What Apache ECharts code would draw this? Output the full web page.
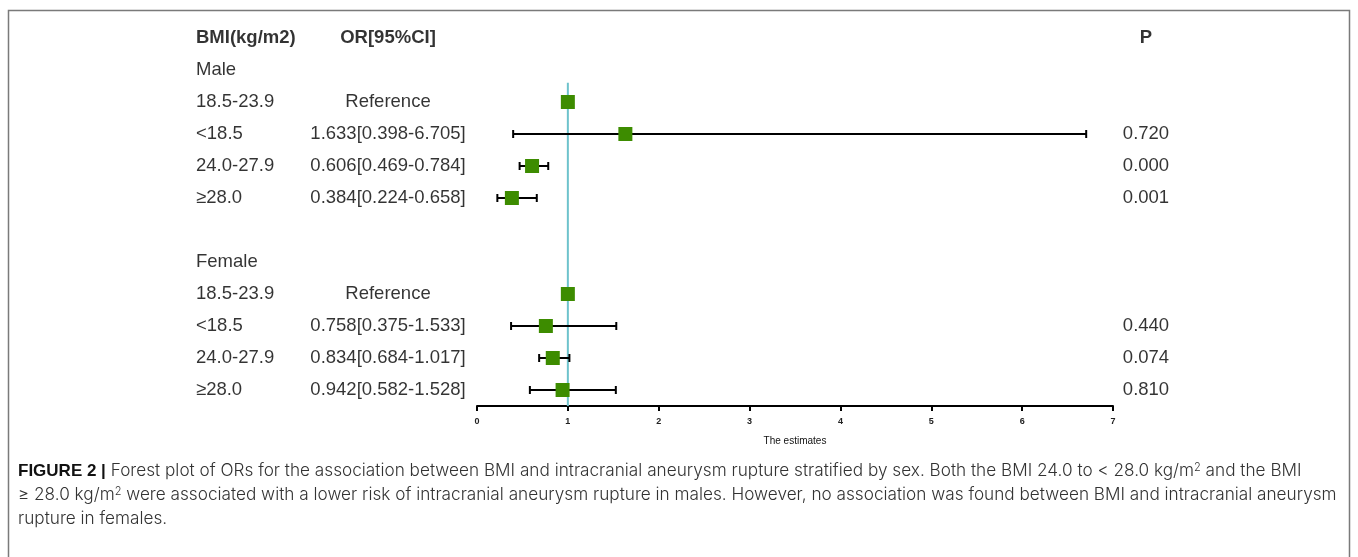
<!DOCTYPE html>
<html><head><meta charset="utf-8">
<script src="https://cdn.jsdelivr.net/npm/echarts@6/dist/echarts.min.js"></script>
<style>html,body{margin:0;padding:0;background:#fff}#c{width:1358px;height:557px}</style>
</head><body><div id="c"></div>
<script>
// ---- data ----
const groups = ['Male', 'Female'];
const categories = ['18.5-23.9', '<18.5', '24.0-27.9', '\u226528.0'];
const maleOR   = [1, 1.633, 0.606, 0.384];
const maleLow  = [null, 0.398, 0.469, 0.224];
const maleHigh = [null, 6.705, 0.784, 0.658];
const maleP    = ['', '0.720', '0.000', '0.001'];
const femaleOR   = [1, 0.758, 0.834, 0.942];
const femaleLow  = [null, 0.375, 0.684, 0.582];
const femaleHigh = [null, 1.533, 1.017, 1.528];
const femaleP    = ['', '0.440', '0.074', '0.810'];
const headers = ['BMI(kg/m2)', 'OR[95%CI]', 'P'];
const xTicks = [0, 1, 2, 3, 4, 5, 6, 7];
const refValue = 1;
const xTitle = 'The estimates';
const captionLines = [
  '{b|FIGURE 2 |} Forest plot of ORs for the association between BMI and intracranial aneurysm rupture stratified by sex. Both the BMI 24.0 to < 28.0 kg/m{sup|2} and the BMI',
  '\u2265 28.0 kg/m{sup|2} were associated with a lower risk of intracranial aneurysm rupture in males. However, no association was found between BMI and intracranial aneurysm',
  'rupture in females.'
];

// ---- layout ----
const COL_BMI = 196, COL_OR = 388, COL_P = 1146;
const groupData = [
  {name: groups[0], or: maleOR, lo: maleLow, hi: maleHigh, p: maleP, row: 1},
  {name: groups[1], or: femaleOR, lo: femaleLow, hi: femaleHigh, p: femaleP, row: 7}
];
const leftTexts = [], centerTexts = [], boldTexts = [], points = [], bars = [];
boldTexts.push({value: [COL_BMI, 0], name: headers[0], align: 'left'});
boldTexts.push({value: [COL_OR, 0], name: headers[1], align: 'center'});
boldTexts.push({value: [COL_P, 0], name: headers[2], align: 'center'});
groupData.forEach(g => {
  leftTexts.push({value: [COL_BMI, g.row], name: g.name});
  categories.forEach((c, i) => {
    const r = g.row + 1 + i;
    leftTexts.push({value: [COL_BMI, r], name: c});
    const txt = g.lo[i] == null ? 'Reference'
      : g.or[i].toFixed(3) + '[' + g.lo[i].toFixed(3) + '-' + g.hi[i].toFixed(3) + ']';
    centerTexts.push({value: [COL_OR, r], name: txt});
    if (g.p[i]) centerTexts.push({value: [COL_P, r], name: g.p[i]});
    points.push([g.or[i], r]);
    if (g.lo[i] != null) bars.push([g.lo[i], g.hi[i], r]);
  });
});

const FS = 18.5;
const chart = echarts.init(document.getElementById('c'), null, {renderer: 'canvas'});
const yAx = {type: 'value', min: 0, max: 11.5, inverse: true, show: false};
const txtSeries = (data, align, bold) => ({
  type: 'scatter', xAxisIndex: 1, yAxisIndex: 1, symbolSize: 0, silent: true,
  data: data.map(d => ({value: d.value, name: d.name,
    label: {align: d.align || align}})),
  label: {show: true, position: 'inside', formatter: p => p.name, align: align,
    verticalAlign: 'middle', color: '#000', fontSize: FS,
    fontFamily: 'Liberation Sans, Arial, sans-serif', fontWeight: bold ? 'bold' : 'normal'}
});
const CAP_FONT = 'Inter, Roboto, sans-serif';

chart.setOption({
  animation: false,
  grid: [
    {left: 477, width: 636, top: 38, height: 368},
    {left: 0, width: 1358, top: 38, height: 368}
  ],
  xAxis: [
    {type: 'value', gridIndex: 0, position: 'bottom', min: xTicks[0], max: xTicks[xTicks.length - 1], interval: 1,
     splitLine: {show: false},
     axisLine: {show: true, onZero: false, lineStyle: {color: '#000', width: 2}},
     axisTick: {show: true, length: 5, lineStyle: {color: '#000', width: 2}},
     axisLabel: {fontSize: 9, fontWeight: 'bold', color: '#222', margin: 11,
       fontFamily: 'Liberation Sans Narrow, Liberation Sans, Arial'},
     name: xTitle, nameLocation: 'middle', nameGap: 30,
     nameTextStyle: {fontSize: 10, color: '#111', fontFamily: 'Liberation Sans Narrow, Liberation Sans, Arial'}},
    {type: 'value', gridIndex: 1, min: 0, max: 1358, show: false}
  ],
  yAxis: [Object.assign({gridIndex: 0}, yAx), Object.assign({gridIndex: 1}, yAx)],
  series: [
    {type: 'line', xAxisIndex: 0, yAxisIndex: 0, data: [[refValue, 1.4], [refValue, 11.5]],
     symbol: 'none', lineStyle: {color: '#6ec3cc', width: 2}, z: 1, silent: true},
    {type: 'custom', xAxisIndex: 0, yAxisIndex: 0, data: bars, z: 2, silent: true,
     renderItem: (params, api) => {
       const a = api.coord([api.value(0), api.value(2)]);
       const b = api.coord([api.value(1), api.value(2)]);
       const st = {stroke: '#000', lineWidth: 2};
       return {type: 'group', children: [
         {type: 'line', shape: {x1: a[0], y1: a[1], x2: b[0], y2: b[1]}, style: st},
         {type: 'line', shape: {x1: a[0], y1: a[1] - 4, x2: a[0], y2: a[1] + 4}, style: st},
         {type: 'line', shape: {x1: b[0], y1: b[1] - 4, x2: b[0], y2: b[1] + 4}, style: st}
       ]};
     }},
    {type: 'scatter', xAxisIndex: 0, yAxisIndex: 0, data: points, symbol: 'rect', symbolSize: 14,
     itemStyle: {color: '#3d8c00', opacity: 1}, z: 3, silent: true},
    txtSeries(leftTexts, 'left', false),
    txtSeries(centerTexts, 'center', false),
    txtSeries(boldTexts, 'left', true)
  ],
  graphic: [
    {type: 'rect', shape: {x: 8.5, y: 10.5, width: 1341, height: 700},
     style: {fill: 'none', stroke: '#7a7a7a', lineWidth: 1.5}, silent: true},
    {type: 'text', left: 18, top: 459, silent: true,
     style: {
       text: captionLines.join('\n'),
       fontFamily: CAP_FONT, fontWeight: 300, fontSize: 17.2, fill: '#333', lineHeight: 24,
       rich: {
         b: {fontFamily: 'Liberation Sans, Arial', fontWeight: 'bold', fontSize: 17, fill: '#111', lineHeight: 24},
         sup: {fontFamily: CAP_FONT, fontWeight: 300, fontSize: 11, fill: '#333', lineHeight: 24,
               verticalAlign: 'top', padding: [3, 0, 0, 0]}
       }
     }}
  ]
});
</script></body></html>
